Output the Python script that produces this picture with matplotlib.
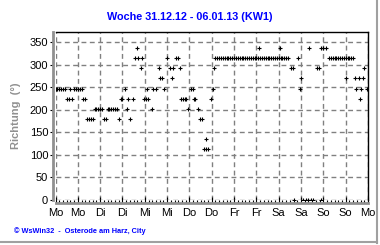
import matplotlib
matplotlib.use("Agg")
import matplotlib.pyplot as plt
from matplotlib.lines import Line2D
from matplotlib.ticker import MultipleLocator

# wind direction, week 31.12.12 - 06.01.13, time in hours from Monday 00:00
hours_d1 = [0, 1, 2, 3, 4, 5, 6, 7, 8, 9, 10, 11, 12, 13, 14, 15, 16, 17, 18, 19, 20, 21, 22, 23]
dir_d1 = [247.5, 247.5, 247.5, 247.5, 247.5, 247.5, 225, 225, 247.5, 225, 247.5, 247.5, 247.5,
          247.5, 247.5, 225, 225, 180, 180, 180, 180, 202.5, 202.5, 202.5]

hours_d2 = [24, 25, 26, 27, 28, 29, 30, 31, 32, 33, 34, 35, 36, 37.4, 38.4, 39, 40.3, 41.5,
            42.5, 43.6, 44.4, 45.8, 46.5, 47.7]
dir_d2 = [202.5, 202.5, 180, 180, 202.5, 202.5, 202.5, 202.5, 202.5, 202.5, 180, 225, 225,
          247.5, 202.5, 225, 180, 225, 315, 337.5, 315, 292.5, 315, 225]

hours_d3 = [48.8, 49.1, 49.8, 51.8, 52.5, 54, 55.4, 56.3, 57.4, 58.4, 59.9, 61.4, 62.5, 63.1,
            64.9, 66, 66.7, 67.3, 68.4, 69.5, 70.3, 71.5]
dir_d3 = [225, 247.5, 225, 202.5, 247.5, 247.5, 292.5, 270, 270, 247.5, 315, 292.5, 270, 292.5,
          315, 315, 292.5, 225, 225, 225, 225, 202.5]

hours_d4 = [73, 73.8, 74.3, 75.1, 76.4, 77.8, 78.6, 80, 80.8, 81, 82.1, 83.6, 84.5, 85.4,
            86, 87, 88, 89, 90, 91, 92, 93, 94, 95]
dir_d4 = [247.5, 247.5, 225, 225, 202.5, 180, 180, 112.5, 135, 112.5, 112.5, 225, 247.5, 292.5,
          315, 315, 315, 315, 315, 315, 315, 315, 315, 315]

hours_d5 = [96, 97, 98, 99, 100, 101, 102, 103, 104, 105, 106, 107, 108, 109, 109.2, 110, 111,
            112, 113, 114, 115, 116, 117, 118, 119]
dir_d5 = [315, 315, 315, 315, 315, 315, 315, 315, 315, 315, 315, 315, 315, 315, 337.5, 315, 315,
          315, 315, 315, 315, 315, 315, 315, 315]

hours_d6 = [120, 120.5, 121, 122, 123, 124, 125, 126.5, 127.9, 128.2, 130.2, 131.3, 132, 133,
            134.5, 136, 136.1, 137.3, 138.5, 140.8, 141.6, 142.7, 142.9]
dir_d6 = [315, 337.5, 315, 315, 315, 315, 315, 292.5, 292.5, 0, 315, 247.5, 270, 0,
          0, 0, 337.5, 0, 0, 292.5, 292.5, 337.5, 0]

hours_d7 = [144, 145.4, 147, 148, 149, 150, 151, 152, 153, 154, 155, 156, 156.4, 157, 158, 159,
            160, 161, 161.3, 163.3, 163.6, 164.2, 165.3, 166.1, 167.2]
dir_d7 = [337.5, 337.5, 315, 315, 315, 315, 315, 315, 315, 315, 315, 315, 270, 315, 315, 315,
          315, 270, 247.5, 270, 225, 247.5, 270, 292.5, 247.5]

day_labels = ["Mo", "Mo", "Di", "Di", "Mi", "Mi", "Do", "Do", "Fr", "Fr", "Sa", "Sa", "So", "So", "Mo"]
y_ticks = [0, 50, 100, 150, 200, 250, 300, 350]

hours = hours_d1 + hours_d2 + hours_d3 + hours_d4 + hours_d5 + hours_d6 + hours_d7
direction = dir_d1 + dir_d2 + dir_d3 + dir_d4 + dir_d5 + dir_d6 + dir_d7

plt.rcParams["font.family"] = ["Liberation Sans", "DejaVu Sans"]

fig = plt.figure(figsize=(3.8, 2.45), dpi=100)
ax = fig.add_axes([55.5 / 380, 45 / 245, 312.5 / 380, 168 / 245])

ax.plot(hours, direction, linestyle="none", marker="+", markersize=2.6,
        markeredgewidth=0.8, color="black")

ax.set_xlim(0, 168)
ax.set_ylim(0, 373)
ax.set_xticks(range(0, 169, 12))
ax.set_xticklabels(day_labels)
ax.xaxis.set_minor_locator(MultipleLocator(2))
ax.set_yticks(y_ticks)

ax.grid(True, which="major", color="#808080", linestyle=(0, (3.5, 2.5)), linewidth=1.0)

for side in ["left", "bottom"]:
    ax.spines[side].set_color("#909090")
    ax.spines[side].set_linewidth(2.0)
    ax.spines[side].set_position(("outward", 1.8))
for side in ["top", "right"]:
    ax.spines[side].set_color("black")
    ax.spines[side].set_linewidth(1.0)

ax.tick_params(axis="x", which="both", direction="in", colors="black", labelsize=8, pad=4)
ax.tick_params(axis="x", which="major", length=4, width=0.8)
ax.tick_params(axis="x", which="minor", length=2.5, width=0.8)
ax.tick_params(axis="y", direction="out", length=2.5, width=0.8, labelsize=8, pad=1)

ax.set_ylabel("Richtung  (°)", color="#909090", fontweight="bold", fontsize=8, labelpad=6)

fig.text(190 / 380, 1 - 17 / 245, "Woche 31.12.12 - 06.01.13 (KW1)", color="#0000ff",
         fontweight="bold", fontsize=7.8, ha="center", va="center")
fig.text(14 / 380, 1 - 231 / 245, "© WsWin32  -  Osterode am Harz, City", color="#0000ff",
         fontweight="bold", fontsize=5.3, ha="left", va="center")

# grey frame on the right and bottom edge of the image
fig.add_artist(Line2D([377 / 380, 377 / 380], [2 / 245, 1], transform=fig.transFigure,
                      color="#a0a0a0", linewidth=1.5))
fig.add_artist(Line2D([0, 377 / 380], [3 / 245, 3 / 245], transform=fig.transFigure,
                      color="#a0a0a0", linewidth=1.5))

fig.savefig("out.png", dpi=100)
